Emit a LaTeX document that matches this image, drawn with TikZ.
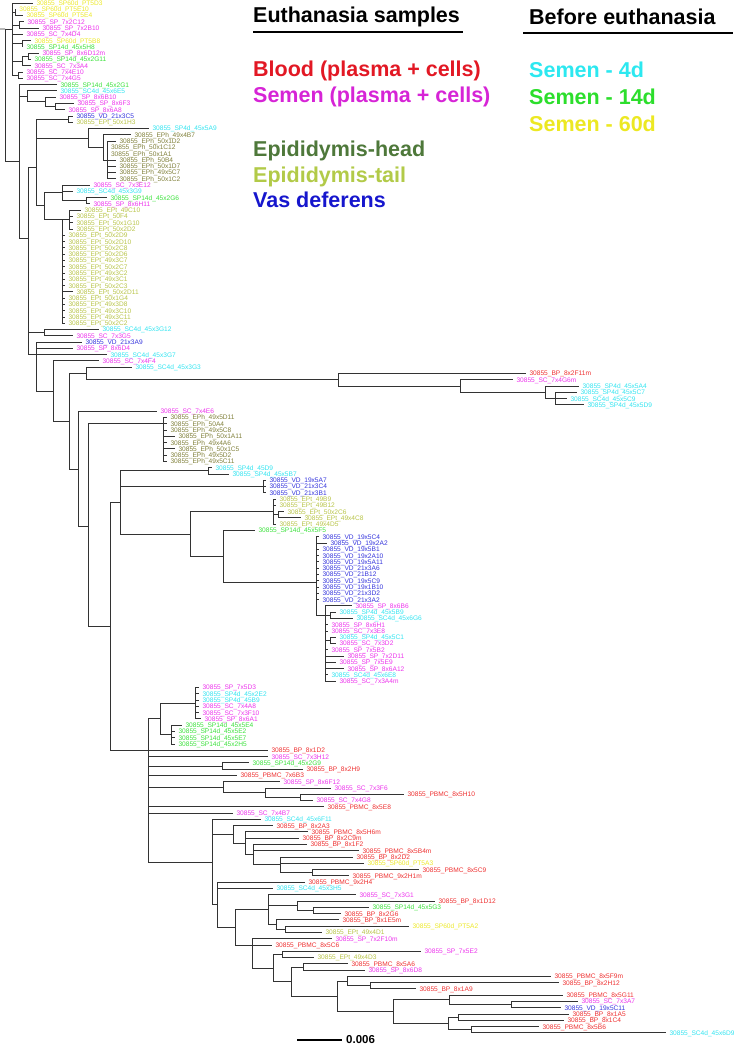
\documentclass[tikz,border=0pt]{standalone}
\usepackage{fontspec}
\setmainfont{Liberation Sans}
\definecolor{cbp}{RGB}{238,48,48}
\definecolor{csm}{RGB}{236,52,236}
\definecolor{cc4}{RGB}{50,228,240}
\definecolor{cg14}{RGB}{60,225,60}
\definecolor{cy60}{RGB}{236,232,40}
\definecolor{ceh}{RGB}{128,128,58}
\definecolor{cet}{RGB}{184,196,72}
\definecolor{cvd}{RGB}{52,52,220}
\definecolor{lblood}{RGB}{226,24,36}
\definecolor{lsemen}{RGB}{214,36,214}
\definecolor{lhead}{RGB}{78,120,58}
\definecolor{ltail}{RGB}{178,202,72}
\definecolor{lvas}{RGB}{22,22,205}
\definecolor{lfour}{RGB}{44,232,240}
\definecolor{lfourteen}{RGB}{44,222,44}
\definecolor{lsixty}{RGB}{236,232,34}
\newcommand\leafx[4]{\coordinate (L#1) at (#2,{6.28*#1-3.28});\node[lab,#4] (T#1) at (L#1) {30855\_#3};}
\newcommand\inode[3]{\coordinate (#1) at (#2,{6.28*(#3)-3.28});}
\newcommand\kids[2]{\foreach \cc in {#2} {\draw[br] (#1) |- (\cc);}}
\begin{document}
\begin{tikzpicture}[x=1pt,y=-1pt,
  lab/.style={anchor=west,inner sep=0pt,xshift=3.3pt,font=\fontsize{6.6}{7}\selectfont,text height=4.8pt,text depth=0pt},
  br/.style={draw=black!80,line width=0.95pt},
  leg/.style={anchor=base west,inner sep=0pt,font=\fontsize{21.5}{24}\selectfont\bfseries},
  tbp/.style={text=cbp},tsm/.style={text=csm},tcf/.style={text=cc4},tgf/.style={text=cg14},
  tys/.style={text=cy60},teh/.style={text=ceh},tet/.style={text=cet},tvd/.style={text=cvd}]
\useasboundingbox (0,0) rectangle (733,1048);
% ---------- legend ----------
\node[leg] (h1) at (253,23) {Euthanasia samples};
\coordinate (u1a) at (253,32); \coordinate (u1b) at (463,32);
\draw[line width=2.6pt] (u1a) -- (u1b);
\node[leg] (h2) at (529,25) {Before euthanasia};
\coordinate (u2a) at (523,33); \coordinate (u2b) at (733,33);
\draw[line width=2.6pt] (u2a) -- (u2b);
\node[leg,text=lblood] (g1) at (253,77) {Blood (plasma + cells)};
\node[leg,text=lsemen] (g2) at (253,103) {Semen (plasma + cells)};
\node[leg,text=lhead] (g3) at (253,157) {Epididymis-head};
\node[leg,text=ltail] (g4) at (253,183) {Epididymis-tail};
\node[leg,text=lvas] (g5) at (253,208) {Vas deferens};
\node[leg,text=lfour] (g6) at (529,78) {Semen - 4d};
\node[leg,text=lfourteen] (g7) at (529,105) {Semen - 14d};
\node[leg,text=lsixty] (g8) at (529,132) {Semen - 60d};
% ---------- leaves ----------
\leafx{1}{33}{SP60d\_PT5D3}{tys}
\leafx{2}{16}{SP60d\_PT5E10}{tys}
\leafx{3}{23}{SP60d\_PT5E4}{tys}
\leafx{4}{24}{SP\_7x2C12}{tsm}
\leafx{5}{39}{SP\_7x2B10}{tsm}
\leafx{6}{23}{SC\_7x4D4}{tsm}
\leafx{7}{31}{SP60d\_PT5B8}{tys}
\leafx{8}{23}{SP14d\_45x5H8}{tgf}
\leafx{9}{39}{SP\_8x6D12m}{tsm}
\leafx{10}{31}{SP14d\_45x2G11}{tgf}
\leafx{11}{31}{SC\_7x3A4}{tsm}
\leafx{12}{23}{SC\_7x4E10}{tsm}
\leafx{13}{23}{SC\_7x4G5}{tsm}
\leafx{14}{57}{SP14d\_45x2G1}{tgf}
\leafx{15}{57}{SC4d\_45x6E5}{tcf}
\leafx{16}{56}{SP\_8x6B10}{tsm}
\leafx{17}{74}{SP\_8x6F3}{tsm}
\leafx{18}{65}{SP\_8x6A8}{tsm}
\leafx{19}{73}{VD\_21x3C5}{tvd}
\leafx{20}{73}{EPt\_50x1H3}{tet}
\leafx{21}{149}{SP4d\_45x5A9}{tcf}
\leafx{22}{131}{EPh\_49x4B7}{teh}
\leafx{23}{116}{EPh\_50x1D2}{teh}
\leafx{24}{107.5}{EPh\_50x1C12}{teh}
\leafx{25}{107.5}{EPh\_50x1A1}{teh}
\leafx{26}{116}{EPh\_50B4}{teh}
\leafx{27}{116}{EPh\_50x1D7}{teh}
\leafx{28}{116}{EPh\_49x5C7}{teh}
\leafx{29}{116}{EPh\_50x1C2}{teh}
\leafx{30}{90}{SC\_7x3E12}{tsm}
\leafx{31}{73}{SC4d\_45x3G9}{tcf}
\leafx{32}{107}{SP14d\_45x2G6}{tgf}
\leafx{33}{90}{SP\_8x6H11}{tsm}
\leafx{34}{81}{EPt\_49C10}{tet}
\leafx{35}{73}{EPt\_50F4}{tet}
\leafx{36}{73}{EPt\_50x1G10}{tet}
\leafx{37}{73}{EPt\_50x2D2}{tet}
\leafx{38}{65}{EPt\_50x2D9}{tet}
\leafx{39}{65}{EPt\_50x2D10}{tet}
\leafx{40}{65}{EPt\_50x2C8}{tet}
\leafx{41}{65}{EPt\_50x2D6}{tet}
\leafx{42}{65}{EPt\_49x3C7}{tet}
\leafx{43}{65}{EPt\_50x2C7}{tet}
\leafx{44}{65}{EPt\_49x3C2}{tet}
\leafx{45}{65}{EPt\_49x3C1}{tet}
\leafx{46}{65}{EPt\_50x2C3}{tet}
\leafx{47}{73}{EPt\_50x2D11}{tet}
\leafx{48}{65}{EPt\_50x1G4}{tet}
\leafx{49}{65}{EPt\_49x3D8}{tet}
\leafx{50}{65}{EPt\_49x3C10}{tet}
\leafx{51}{65}{EPt\_49x3C11}{tet}
\leafx{52}{65}{EPt\_50x2C2}{tet}
\leafx{53}{99}{SC4d\_45x3G12}{tcf}
\leafx{54}{73}{SC\_7x3G5}{tsm}
\leafx{55}{82}{VD\_21x3A9}{tvd}
\leafx{56}{73}{SP\_8x6D4}{tsm}
\leafx{57}{107}{SC4d\_45x3G7}{tcf}
\leafx{58}{99}{SC\_7x4F4}{tsm}
\leafx{59}{132}{SC4d\_45x3G3}{tcf}
\leafx{60}{526}{BP\_8x2F11m}{tbp}
\leafx{61}{513}{SC\_7x4G6m}{tsm}
\leafx{62}{579}{SP4d\_45x5A4}{tcf}
\leafx{63}{577}{SP4d\_45x5C7}{tcf}
\leafx{64}{567}{SC4d\_45x5C9}{tcf}
\leafx{65}{584}{SP4d\_45x5D9}{tcf}
\leafx{66}{157}{SC\_7x4E6}{tsm}
\leafx{67}{167}{EPh\_49x5D11}{teh}
\leafx{68}{167}{EPh\_50A4}{teh}
\leafx{69}{167}{EPh\_49x5C8}{teh}
\leafx{70}{175}{EPh\_50x1A11}{teh}
\leafx{71}{167}{EPh\_49x4A6}{teh}
\leafx{72}{175}{EPh\_50x1C5}{teh}
\leafx{73}{167}{EPh\_49x5D2}{teh}
\leafx{74}{167}{EPh\_49x5C11}{teh}
\leafx{75}{212}{SP4d\_45D9}{tcf}
\leafx{76}{229}{SP4d\_45x5B7}{tcf}
\leafx{77}{266}{VD\_19x5A7}{tvd}
\leafx{78}{266}{VD\_21x3C4}{tvd}
\leafx{79}{266}{VD\_21x3B1}{tvd}
\leafx{80}{276}{EPt\_49B9}{tet}
\leafx{81}{276}{EPt\_49B12}{tet}
\leafx{82}{284}{EPt\_50x2C6}{tet}
\leafx{83}{301}{EPt\_49x4C8}{tet}
\leafx{84}{276}{EPt\_49x4D5}{tet}
\leafx{85}{255}{SP14d\_45x5F5}{tgf}
\leafx{86}{319}{VD\_19x5C4}{tvd}
\leafx{87}{327}{VD\_19x2A2}{tvd}
\leafx{88}{319}{VD\_19x5B1}{tvd}
\leafx{89}{319}{VD\_19x2A10}{tvd}
\leafx{90}{319}{VD\_19x5A11}{tvd}
\leafx{91}{319}{VD\_21x3A6}{tvd}
\leafx{92}{319}{VD\_21B12}{tvd}
\leafx{93}{319}{VD\_19x5C9}{tvd}
\leafx{94}{319}{VD\_19x1B10}{tvd}
\leafx{95}{319}{VD\_21x3D2}{tvd}
\leafx{96}{319}{VD\_21x3A2}{tvd}
\leafx{97}{352}{SP\_8x6B6}{tsm}
\leafx{98}{336}{SP4d\_45x5B9}{tcf}
\leafx{99}{353}{SC4d\_45x6G6}{tcf}
\leafx{100}{328}{SP\_8x6H1}{tsm}
\leafx{101}{328}{SC\_7x3E8}{tsm}
\leafx{102}{336}{SP4d\_45x5C1}{tcf}
\leafx{103}{336}{SC\_7x3D2}{tsm}
\leafx{104}{328}{SP\_7x5B2}{tsm}
\leafx{105}{344}{SP\_7x2D11}{tsm}
\leafx{106}{336}{SP\_7x5E9}{tsm}
\leafx{107}{344}{SP\_8x6A12}{tsm}
\leafx{108}{328}{SC4d\_45x6E8}{tcf}
\leafx{109}{336}{SC\_7x3A4m}{tsm}
\leafx{110}{199}{SP\_7x5D3}{tsm}
\leafx{111}{199}{SP4d\_45x2E2}{tcf}
\leafx{112}{199}{SP4d\_45B9}{tcf}
\leafx{113}{199}{SC\_7x4A8}{tsm}
\leafx{114}{199}{SC\_7x3F10}{tsm}
\leafx{115}{201}{SP\_8x6A1}{tsm}
\leafx{116}{182}{SP14d\_45x5E4}{tgf}
\leafx{117}{175}{SP14d\_45x5E2}{tgf}
\leafx{118}{175}{SP14d\_45x5E7}{tgf}
\leafx{119}{175}{SP14d\_45x2H5}{tgf}
\leafx{120}{268}{BP\_8x1D2}{tbp}
\leafx{121}{268}{SC\_7x3H12}{tsm}
\leafx{122}{249}{SP14d\_45x2G9}{tgf}
\leafx{123}{303}{BP\_8x2H9}{tbp}
\leafx{124}{237}{PBMC\_7x6B3}{tbp}
\leafx{125}{280}{SP\_8x6F12}{tsm}
\leafx{126}{331}{SC\_7x3F6}{tsm}
\leafx{127}{404}{PBMC\_8x5H10}{tbp}
\leafx{128}{313}{SC\_7x4G8}{tsm}
\leafx{129}{324}{PBMC\_8x5E8}{tbp}
\leafx{130}{233}{SC\_7x4B7}{tsm}
\leafx{131}{261}{SC4d\_45x6F11}{tcf}
\leafx{132}{273}{BP\_8x2A3}{tbp}
\leafx{133}{308}{PBMC\_8x5H6m}{tbp}
\leafx{134}{299}{BP\_8x2C9m}{tbp}
\leafx{135}{307}{BP\_8x1F2}{tbp}
\leafx{136}{359}{PBMC\_8x5B4m}{tbp}
\leafx{137}{353}{BP\_8x2D2}{tbp}
\leafx{138}{364}{SP60d\_PT5A3}{tys}
\leafx{139}{419}{PBMC\_8x5C9}{tbp}
\leafx{140}{349}{PBMC\_9x2H1m}{tbp}
\leafx{141}{305}{PBMC\_9x2H4}{tbp}
\leafx{142}{273}{SC4d\_45x3H5}{tcf}
\leafx{143}{356}{SC\_7x3G1}{tsm}
\leafx{144}{435}{BP\_8x1D12}{tbp}
\leafx{145}{369}{SP14d\_45x5G3}{tgf}
\leafx{146}{341}{BP\_8x2G6}{tbp}
\leafx{147}{339}{BP\_8x1E5m}{tbp}
\leafx{148}{409}{SP60d\_PT5A2}{tys}
\leafx{149}{322}{EPt\_49x4D1}{tet}
\leafx{150}{332}{SP\_7x2F10m}{tsm}
\leafx{151}{272}{PBMC\_8x5C6}{tbp}
\leafx{152}{421}{SP\_7x5E2}{tsm}
\leafx{153}{314}{EPt\_49x4D3}{tet}
\leafx{154}{348}{PBMC\_8x5A6}{tbp}
\leafx{155}{365}{SP\_8x6D8}{tsm}
\leafx{156}{551}{PBMC\_8x5F9m}{tbp}
\leafx{157}{559}{BP\_8x2H12}{tbp}
\leafx{158}{416}{BP\_8x1A9}{tbp}
\leafx{159}{563}{PBMC\_8x5G11}{tbp}
\leafx{160}{578}{SC\_7x3A7}{tsm}
\leafx{161}{561}{VD\_19x5C11}{tvd}
\leafx{162}{569}{BP\_8x1A5}{tbp}
\leafx{163}{564}{BP\_8x1C4}{tbp}
\leafx{164}{539}{PBMC\_8x5B6}{tbp}
\leafx{165}{666}{SC4d\_45x6D9}{tcf}
% ---------- internal nodes ----------
\coordinate (rs) at (0,29);
\inode{root}{5}{5.14}
\inode{A}{12.7}{5.14}
\inode{a}{15}{2.5}
\inode{b}{19}{4.5}
\inode{c}{22}{7.5}
\inode{d1}{28}{9.5}
\inode{d}{22}{10.25}
\inode{e}{18}{12.5}
\inode{P19}{19}{26.16}
\inode{F27}{27}{15.9}
\inode{F45}{45}{16.75}
\inode{F55}{55}{17.5}
\inode{P28}{28}{38.42}
\inode{P36}{36}{27.27}
\inode{N68}{68}{19.5}
\inode{X88}{88}{22.5}
\inode{E103}{103}{24}
\inode{E107}{107}{26}
\inode{P44}{44}{33.17}
\inode{Q62}{62}{31.25}
\inode{Q86}{86}{32.5}
\inode{E62}{62}{35.5}
\inode{E69}{69}{35.5}
\inode{N44}{44}{53.5}
\inode{P36b}{36}{57}
\inode{Q53}{53}{62.8}
\inode{S69}{69}{67.6}
\inode{S86}{86}{60}
\inode{R0}{338}{61}
\inode{R2}{460}{62}
\inode{R3}{545}{63}
\inode{R4}{555}{64}
\inode{S78}{78}{75.2}
\inode{S88}{88}{84.3}
\inode{EPh}{163}{68}
\inode{S110}{110}{100.25}
\inode{S120}{120}{80.5}
\inode{SPp}{208}{75.5}
\inode{VD3}{263}{78}
\inode{N190}{190.7}{85.55}
\inode{E273}{273}{82}
\inode{E278}{278}{82.5}
\inode{N223}{223}{89.1}
\inode{V}{316}{93.2}
\inode{SPc}{325}{98.5}
\inode{SPa}{330}{98.5}
\inode{SPb}{330}{102.5}
\inode{LL}{148}{120}
\inode{W0}{160}{115}
\inode{W}{195}{112.5}
\inode{W2}{171}{117.5}
\inode{P122}{222}{122.5}
\inode{M223}{223}{125.9}
\inode{M265}{265}{126.75}
\inode{M300}{300}{127.5}
\inode{C212}{212}{137.8}
\inode{C233}{233}{133.4}
\inode{C245}{245}{134.8}
\inode{C253}{253}{136.6}
\inode{C280}{280}{138.25}
\inode{C312}{312}{139.5}
\inode{C217}{217}{144.6}
\inode{C235}{235}{148.2}
\inode{C268}{268}{145.4}
\inode{C297}{297}{144.75}
\inode{C313}{313}{145.5}
\inode{B276}{276}{147.75}
\inode{B285}{285}{148.5}
\inode{B252}{252}{151}
\inode{B273}{273}{154.7}
\inode{B282}{282}{152.5}
\inode{B291}{291}{156.85}
\inode{B303}{303}{154.5}
\inode{B337}{337}{159.2}
\inode{B347}{347}{156.75}
\inode{B370}{370}{157.5}
\inode{B393}{393}{161.6}
\inode{B449}{449}{159.75}
\inode{B511}{511}{160.5}
\inode{B448}{448}{163.5}
\inode{B458}{458}{162.5}
\inode{B471}{471}{164.5}
% ---------- branches ----------
\draw[br] (rs) -- (root);
\kids{root}{A,P19}
\kids{A}{L1,a,b,L6,c,d,e}
\kids{a}{L2,L3} \kids{b}{L4,L5} \kids{c}{L7,L8}
\kids{d}{d1,L11} \kids{d1}{L9,L10} \kids{e}{L12,L13}
\kids{P19}{L14,F27,P28}
\kids{F27}{L15,F45} \kids{F45}{L16,F55} \kids{F55}{L17,L18}
\kids{P28}{P36,N44,P36b}
\kids{P36}{N68,X88,P44}
\kids{N68}{L19,L20}
\kids{X88}{L21,E103} \kids{E103}{L22,E107}
\kids{E107}{L23,L24,L25,L26,L27,L28,L29}
\kids{P44}{Q62,E62}
\kids{Q62}{L30,L31,Q86} \kids{Q86}{L32,L33}
\kids{E62}{E69,L38,L39,L40,L41,L42,L43,L44,L45,L46,L47,L48,L49,L50,L51,L52}
\kids{E69}{L34,L35,L36,L37}
\kids{N44}{L53,L54}
\kids{P36b}{L55,L56,L57,Q53}
\kids{Q53}{L58,S69}
\kids{S69}{S86,S78}
\kids{S86}{L59,R0}
\kids{R0}{L60,R2} \kids{R2}{L61,R3} \kids{R3}{L62,R4} \kids{R4}{L63,L64,L65}
\kids{S78}{L66,S88}
\kids{S88}{EPh,S110}
\kids{EPh}{L67,L68,L69,L70,L71,L72,L73,L74}
\kids{S110}{S120,LL}
\kids{S120}{SPp,VD3,N190}
\kids{SPp}{L75,L76}
\kids{VD3}{L77,L78,L79}
\kids{N190}{E273,N223}
\kids{E273}{L80,L81,E278,L84} \kids{E278}{L82,L83}
\kids{N223}{L85,V}
\kids{V}{L86,L87,L88,L89,L90,L91,L92,L93,L94,L95,L96,SPc}
\kids{SPc}{L97,SPa,L100,L101,SPb,L104,L105,L106,L107,L108,L109}
\kids{SPa}{L98,L99} \kids{SPb}{L102,L103}
\kids{LL}{W0,L120,L121,P122,L124,M223,L129,L130,C212}
\kids{W0}{W,W2}
\kids{W}{L110,L111,L112,L113,L114,L115}
\kids{W2}{L116,L117,L118,L119}
\kids{P122}{L122,L123}
\kids{M223}{L125,M265} \kids{M265}{L126,M300} \kids{M300}{L127,L128}
\kids{C212}{L131,C233,C217}
\kids{C233}{L132,C245} \kids{C245}{L133,L134,C253}
\kids{C253}{L135,L136,C280} \kids{C280}{L137,L138,C312} \kids{C312}{L139,L140}
\kids{C217}{L141,L142,C235}
\kids{C235}{C268,B252}
\kids{C268}{L143,C297,B276} \kids{C297}{L144,C313} \kids{C313}{L145,L146}
\kids{B276}{L147,B285} \kids{B285}{L148,L149}
\kids{B252}{L150,L151,B273}
\kids{B273}{B282,B291} \kids{B282}{L152,L153}
\kids{B291}{B303,B337} \kids{B303}{L154,L155}
\kids{B337}{B347,B393} \kids{B347}{L156,B370} \kids{B370}{L157,L158}
\kids{B393}{B449,B448} \kids{B449}{L159,B511} \kids{B511}{L160,L161}
\kids{B448}{B458,B471} \kids{B458}{L162,L163} \kids{B471}{L164,L165}
% ---------- scale bar ----------
\coordinate (sb1) at (297,1040); \coordinate (sb2) at (342,1040);
\draw[line width=1.8pt] (sb1) -- (sb2);
\node[anchor=west,inner sep=0pt,xshift=4pt,font=\fontsize{11.5}{13}\selectfont\bfseries] (sbl) at (sb2) {0.006};
\end{tikzpicture}
\end{document}
